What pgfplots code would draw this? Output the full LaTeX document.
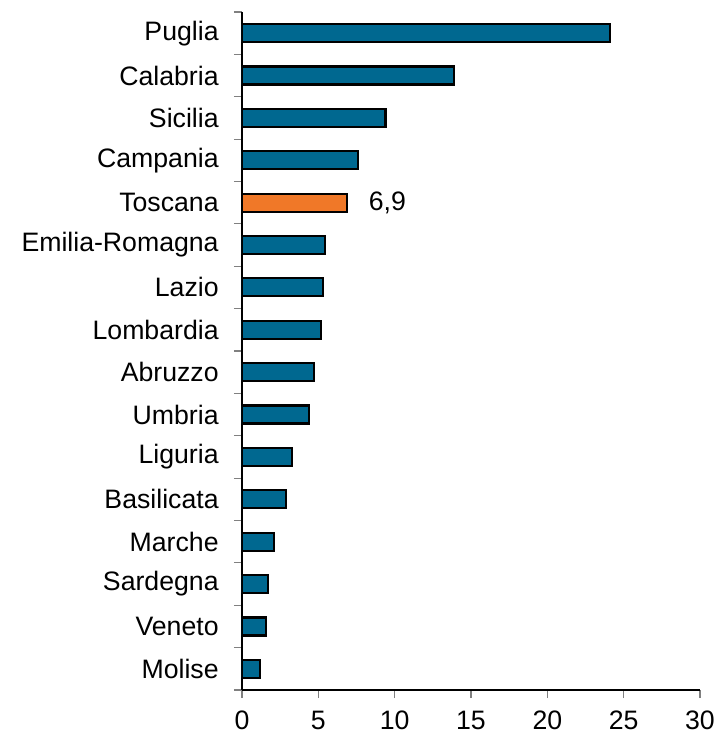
\documentclass[border=0pt]{standalone}
\usepackage{pgfplots}
\pgfplotsset{compat=1.18}
\usepackage{fontspec}
\setmainfont{Liberation Sans}
\definecolor{barblue}{HTML}{006890}
\definecolor{barorange}{HTML}{F07828}
\begin{document}
\begin{tikzpicture}
\begin{axis}[
  scale only axis,
  width=343.5pt, height=508.5pt,
  xmin=0, xmax=30, ymin=-0.5, ymax=15.5,
  xtick={0,5,...,30},
  ytick={0,...,15},
  yticklabels={Molise,Veneto,Sardegna,Marche,Basilicata,Liguria,Umbria,Abruzzo,Lombardia,Lazio,Emilia-Romagna,Toscana,Campania,Sicilia,Calabria,Puglia},
  minor ytick={-0.5,0.5,...,15.5},
  axis x line*=bottom, axis y line*=left,
  axis line style={black, line width=1pt, -},
  tick align=outside,
  x tick style={gray, line width=0.9pt},
  y tick style={draw=none},
  minor y tick style={draw=gray, line width=0.9pt},
  major tick length=6pt,
  minor tick length=6pt,
  /pgf/number format/assume math mode=true,
  ticklabel style={font=\fontsize{20}{24}\selectfont},
  yticklabel style={xshift=-8pt},
  xticklabel style={yshift=-6pt},
  xbar, bar width=13.5pt, bar shift=0pt,
]
\addplot[fill=barblue, draw=black, line width=1.6pt] coordinates {
 (1.2,0) (1.6,1) (1.7,2) (2.1,3) (2.9,4) (3.3,5) (4.4,6) (4.7,7) (5.2,8) (5.3,9) (5.45,10) (7.6,12) (9.4,13) (13.9,14) (24.1,15)
};
\addplot[fill=barorange, draw=black, line width=1.6pt,
  point meta=explicit symbolic, nodes near coords,
  nodes near coords style={anchor=west, xshift=12pt, font=\fontsize{20}{24}\selectfont, text=black}] coordinates {
 (6.9,11) [6,9]
};
\coordinate (sw) at (rel axis cs:0,0);
\coordinate (ne) at (rel axis cs:1,1);
\end{axis}
\pgfresetboundingbox
\path ([xshift=-181.5pt,yshift=-33.75pt]sw) rectangle ([xshift=19.5pt,yshift=9pt]ne);
\end{tikzpicture}
\end{document}
